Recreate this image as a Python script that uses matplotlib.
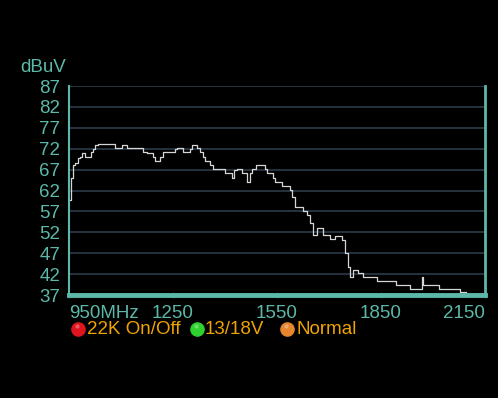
import matplotlib
matplotlib.use("Agg")
import matplotlib.pyplot as plt
from matplotlib.lines import Line2D

# ---- data ----
freq_mhz = [954, 957, 962, 968, 977, 983, 988, 997, 1014, 1020, 1026, 1035, 1084, 1104,
            1118, 1164, 1176, 1193, 1199, 1213, 1222, 1257, 1262, 1280, 1300, 1306, 1320,
            1329, 1337, 1343, 1358, 1366, 1401, 1421, 1427, 1436, 1450, 1464, 1473, 1479,
            1490, 1516, 1522, 1539, 1545, 1565, 1589, 1594, 1603, 1626, 1638, 1646, 1655,
            1666, 1684, 1704, 1718, 1739, 1747, 1756, 1762, 1770, 1785, 1799, 1839, 1894,
            1935, 1967, 1972, 2016, 2079, 2094]
level_dbuv = [59.7, 65.0, 68.1, 68.6, 69.8, 70.1, 70.9, 70.1, 71.3, 71.9, 72.9, 73.1, 72.1, 72.9,
              72.1, 71.3, 70.9, 70.1, 69.1, 70.1, 71.1, 71.9, 72.1, 71.1, 71.9, 72.9, 72.1,
              71.1, 69.9, 69.1, 68.1, 67.1, 66.1, 65.1, 66.9, 67.1, 66.1, 64.1, 66.1, 67.1,
              68.0, 67.1, 66.1, 64.9, 64.1, 63.1, 62.1, 60.5, 58.1, 57.2, 56.1, 54.2, 51.4,
              53.0, 51.4, 50.3, 51.2, 50.2, 47.0, 43.8, 41.4, 43.0, 42.2, 41.4, 40.4, 39.4,
              38.4, 41.3, 39.4, 38.4, 37.8, 37.8]
y_ticks = [37, 42, 47, 52, 57, 62, 67, 72, 77, 82, 87]
x_ticks = [950, 1250, 1550, 1850, 2150]
x_labels = ["950MHz", "1250", "1550", "1850", "2150"]
legend_labels = ["22K On/Off", "13/18V", "Normal"]
legend_colors = ["#e0141e", "#2ed12e", "#e8862e"]

TEAL = "#5cb8a8"
ORANGE = "#f0a400"
GRID = "#2c3b4a"
FONT = "Liberation Sans"
FS = 13.5

fig = plt.figure(figsize=(4.98, 3.98), dpi=100, facecolor="black")
W, H = 498, 398
x0, x1, ytop, ybot = 68.7, 485, 86, 295
ax = fig.add_axes([x0 / W, 1 - ybot / H, (x1 - x0) / W, (ybot - ytop) / H])
ax.set_facecolor("black")

ax.plot(freq_mhz, level_dbuv, drawstyle="steps-post", color="#d6d6d6", lw=0.9, zorder=3)

ax.set_xlim(950, 2150)
ax.set_ylim(37, 87)
ax.set_yticks(y_ticks)
ax.set_yticklabels([str(v) for v in y_ticks])
for v in y_ticks[1:]:
    ax.axhline(v, color=GRID, lw=1.2, zorder=1)

ax.set_xticks(x_ticks)
ax.set_xticklabels(x_labels)
for lab, ha in zip(ax.get_xticklabels(), ["left", "center", "center", "center", "right"]):
    lab.set_horizontalalignment(ha)

ax.tick_params(axis="y", length=0, pad=6, labelcolor=TEAL, labelsize=FS)
ax.tick_params(axis="x", direction="inout", length=4, width=1, color="#1d3a36",
               pad=5, labelcolor=TEAL, labelsize=FS)
for lab in ax.get_xticklabels() + ax.get_yticklabels():
    lab.set_fontfamily(FONT)

ax.spines["top"].set_visible(False)
ax.spines["left"].set_color(TEAL)
ax.spines["left"].set_linewidth(1.5)
ax.spines["right"].set_color(TEAL)
ax.spines["right"].set_linewidth(2)
ax.spines["bottom"].set_color(TEAL)
ax.spines["bottom"].set_linewidth(3.5)
for s in ax.spines.values():
    s.set_zorder(4)

fig.text(43 / W, 1 - 67 / H, "dBuV", color=TEAL, fontsize=FS, family=FONT,
         ha="center", va="center")

# legend row
leg_cx = [78, 197, 287]
leg_tx = [87, 205, 296]
ly = 329
for cx, tx, col, lab in zip(leg_cx, leg_tx, legend_colors, legend_labels):
    fig.add_artist(Line2D([cx / W], [1 - ly / H], marker="o", markersize=9.5,
                          markerfacecolor=col, markeredgecolor=col,
                          transform=fig.transFigure, linestyle="none"))
    fig.add_artist(Line2D([(cx - 1) / W], [1 - (ly - 3) / H], marker="o", markersize=3,
                          markerfacecolor="white", markeredgecolor="none", alpha=0.3,
                          transform=fig.transFigure, linestyle="none"))
    fig.text(tx / W, 1 - (ly + 1) / H, lab, color=ORANGE, fontsize=FS, family=FONT,
             ha="left", va="center")

fig.savefig("out.png", dpi=100, facecolor="black")
